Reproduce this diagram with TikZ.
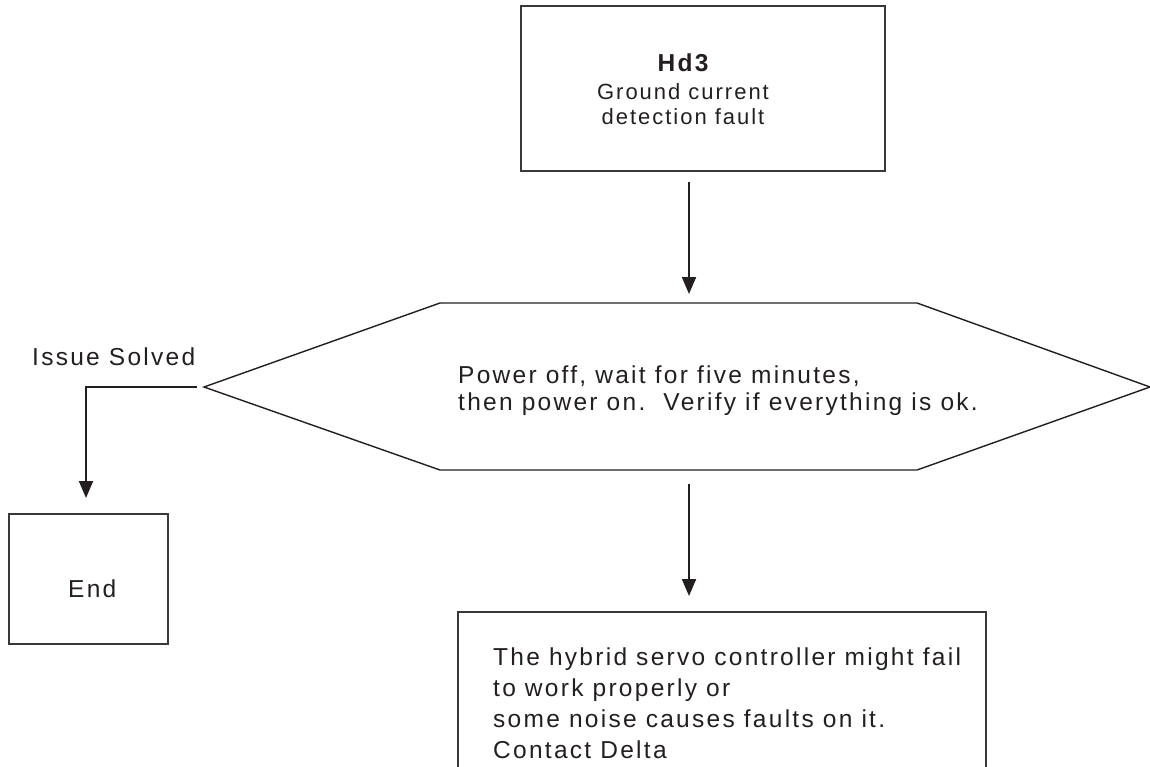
\documentclass[tikz,border=0pt]{standalone}
\usepackage{fontspec}
\setmainfont{Liberation Sans}[LetterSpace=9.3]
\usetikzlibrary{arrows.meta}
\definecolor{ink}{HTML}{231F20}
\definecolor{boxgray}{HTML}{3A3737}
\begin{document}
\begin{tikzpicture}[x=1pt,y=-1pt,
  box/.style={draw=boxgray, line width=1.4pt, rectangle, inner sep=0pt, outer sep=0pt},
  txt/.style={inner sep=0pt, anchor=base west, text=ink, font=\fontsize{24.5}{28}\selectfont},
  ctxt/.style={txt, anchor=base, font=\fontsize{22}{26}\selectfont\addfontfeature{LetterSpace=9}},
  conn/.style={draw=ink, line width=2pt, -{Triangle[length=17pt,width=14pt]}},
  hexline/.style={draw=ink, line width=1.4pt, line join=miter}]
\useasboundingbox (0,0) rectangle (1150,766);
\clip (0,0) rectangle (1150,766);
% top box
\node[box, minimum width=364pt, minimum height=165pt, anchor=north west] (top) at (521,6) {};
\node[ctxt, font=\fontsize{24.5}{28}\selectfont\bfseries] (hd) at (683,71) {Hd3};
\node[ctxt] (gc) at (683,99) {Ground current};
\node[ctxt] (df) at (683,124) {detection fault};
% arrow 1
\coordinate (a1s) at (689,182);
\coordinate (a1e) at (689,294);
\draw[conn] (a1s) -- (a1e);
% hexagon
\draw[hexline] (204,387) coordinate (hL) -- (440,303) coordinate (hTL) -- (917,303) coordinate (hTR)
  -- (1150,387) coordinate (hR) -- (917,470) coordinate (hBR) -- (440,470) coordinate (hBL) -- cycle;
\node[txt] (p1) at (458,383) {Power off, wait for five minutes,};
\node[txt] (p2) at (458,410) {then power on.\ \ Verify if everything is ok.};
% issue solved branch
\node[txt] (is) at (32,365) {Issue Solved};
\coordinate (bs) at (197,387);
\coordinate (be) at (86,498);
\draw[conn] (bs) -| (be);
\node[box, minimum width=159pt, minimum height=130pt, anchor=north west] (end) at (9,514) {};
\node[txt] (endt) at (68,597) {End};
% arrow 2
\coordinate (a2s) at (689,484);
\coordinate (a2e) at (689,596);
\draw[conn] (a2s) -- (a2e);
% bottom box (clipped)
\node[box, minimum width=528pt, minimum height=200pt, anchor=north west] (bot) at (458,612) {};
\node[txt] (b1) at (493,665) {The hybrid servo controller might fail};
\node[txt] (b2) at (493,696) {to work properly or};
\node[txt] (b3) at (493,727) {some noise causes faults on it.};
\node[txt] (b4) at (493,758) {Contact Delta};
\end{tikzpicture}
\end{document}
